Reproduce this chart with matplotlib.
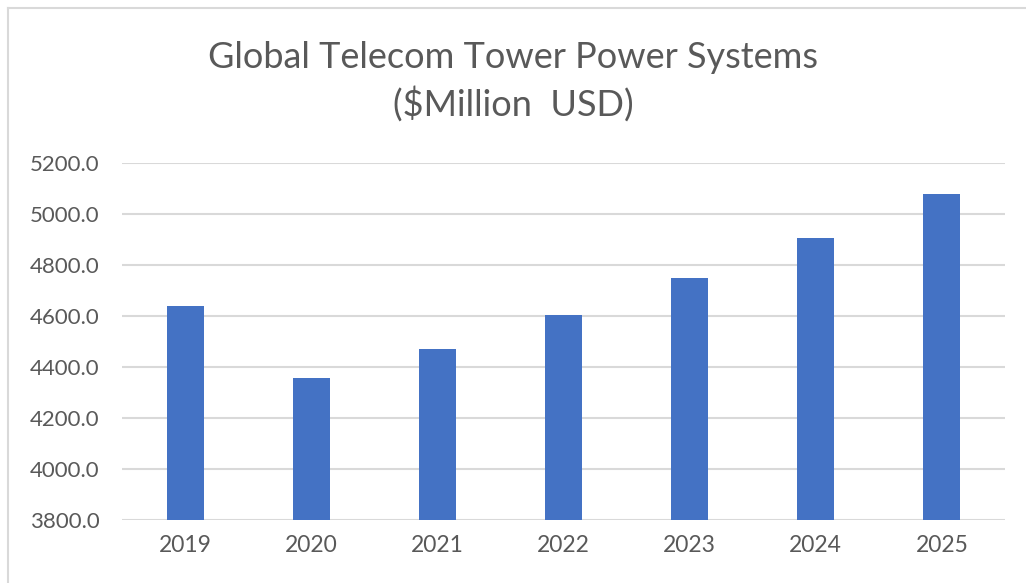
import matplotlib
matplotlib.use("Agg")
import matplotlib.pyplot as plt
from matplotlib.lines import Line2D

years = ["2019", "2020", "2021", "2022", "2023", "2024", "2025"]
market_musd = [4640, 4357, 4472, 4606, 4751, 4908, 5078]
y_ticks = [3800, 4000, 4200, 4400, 4600, 4800, 5000, 5200]

BAR_COLOR = "#4472C4"
TEXT_COLOR = "#595959"
GRID_COLOR = "#D9D9D9"

plt.rcParams["font.family"] = ["Lato", "DejaVu Sans"]

fig = plt.figure(figsize=(10.26, 5.83), dpi=100)
ax = fig.add_axes([122 / 1026, 1 - 520 / 583, (1005 - 122) / 1026, (520 - 163.3) / 583])

x = range(len(years))
ax.bar(x, market_musd, width=0.293, color=BAR_COLOR, zorder=3)

ax.set_xlim(-0.5, len(years) - 0.5)
ax.set_ylim(3800, 5200)
ax.set_yticks(y_ticks)
ax.set_yticklabels([f"{v:.1f}" for v in y_ticks])
ax.set_xticks(list(x))
ax.set_xticklabels(years)
ax.tick_params(axis="y", length=0, labelsize=16, colors=TEXT_COLOR, pad=16)
ax.tick_params(axis="x", length=0, labelsize=16.5, colors=TEXT_COLOR, pad=11)
ax.grid(axis="y", color=GRID_COLOR, lw=1.5, zorder=0)
for s in ax.spines.values():
    s.set_visible(False)

fig.text(0.5, 1 - 57 / 583, "Global Telecom Tower Power Systems",
         ha="center", va="center", fontsize=26, color=TEXT_COLOR)
fig.text(0.5, 1 - 104 / 583, "($Million  USD)",
         ha="center", va="center", fontsize=26, color=TEXT_COLOR)

# thin chart-area frame (top and left edges visible in the reference)
fig.add_artist(Line2D([8 / 1026, 8 / 1026], [0, 1 - 8 / 583],
                      transform=fig.transFigure, color=GRID_COLOR, lw=1.5))
fig.add_artist(Line2D([8 / 1026, 1], [1 - 8 / 583, 1 - 8 / 583],
                      transform=fig.transFigure, color=GRID_COLOR, lw=1.5))

fig.savefig("out.png", dpi=100)
